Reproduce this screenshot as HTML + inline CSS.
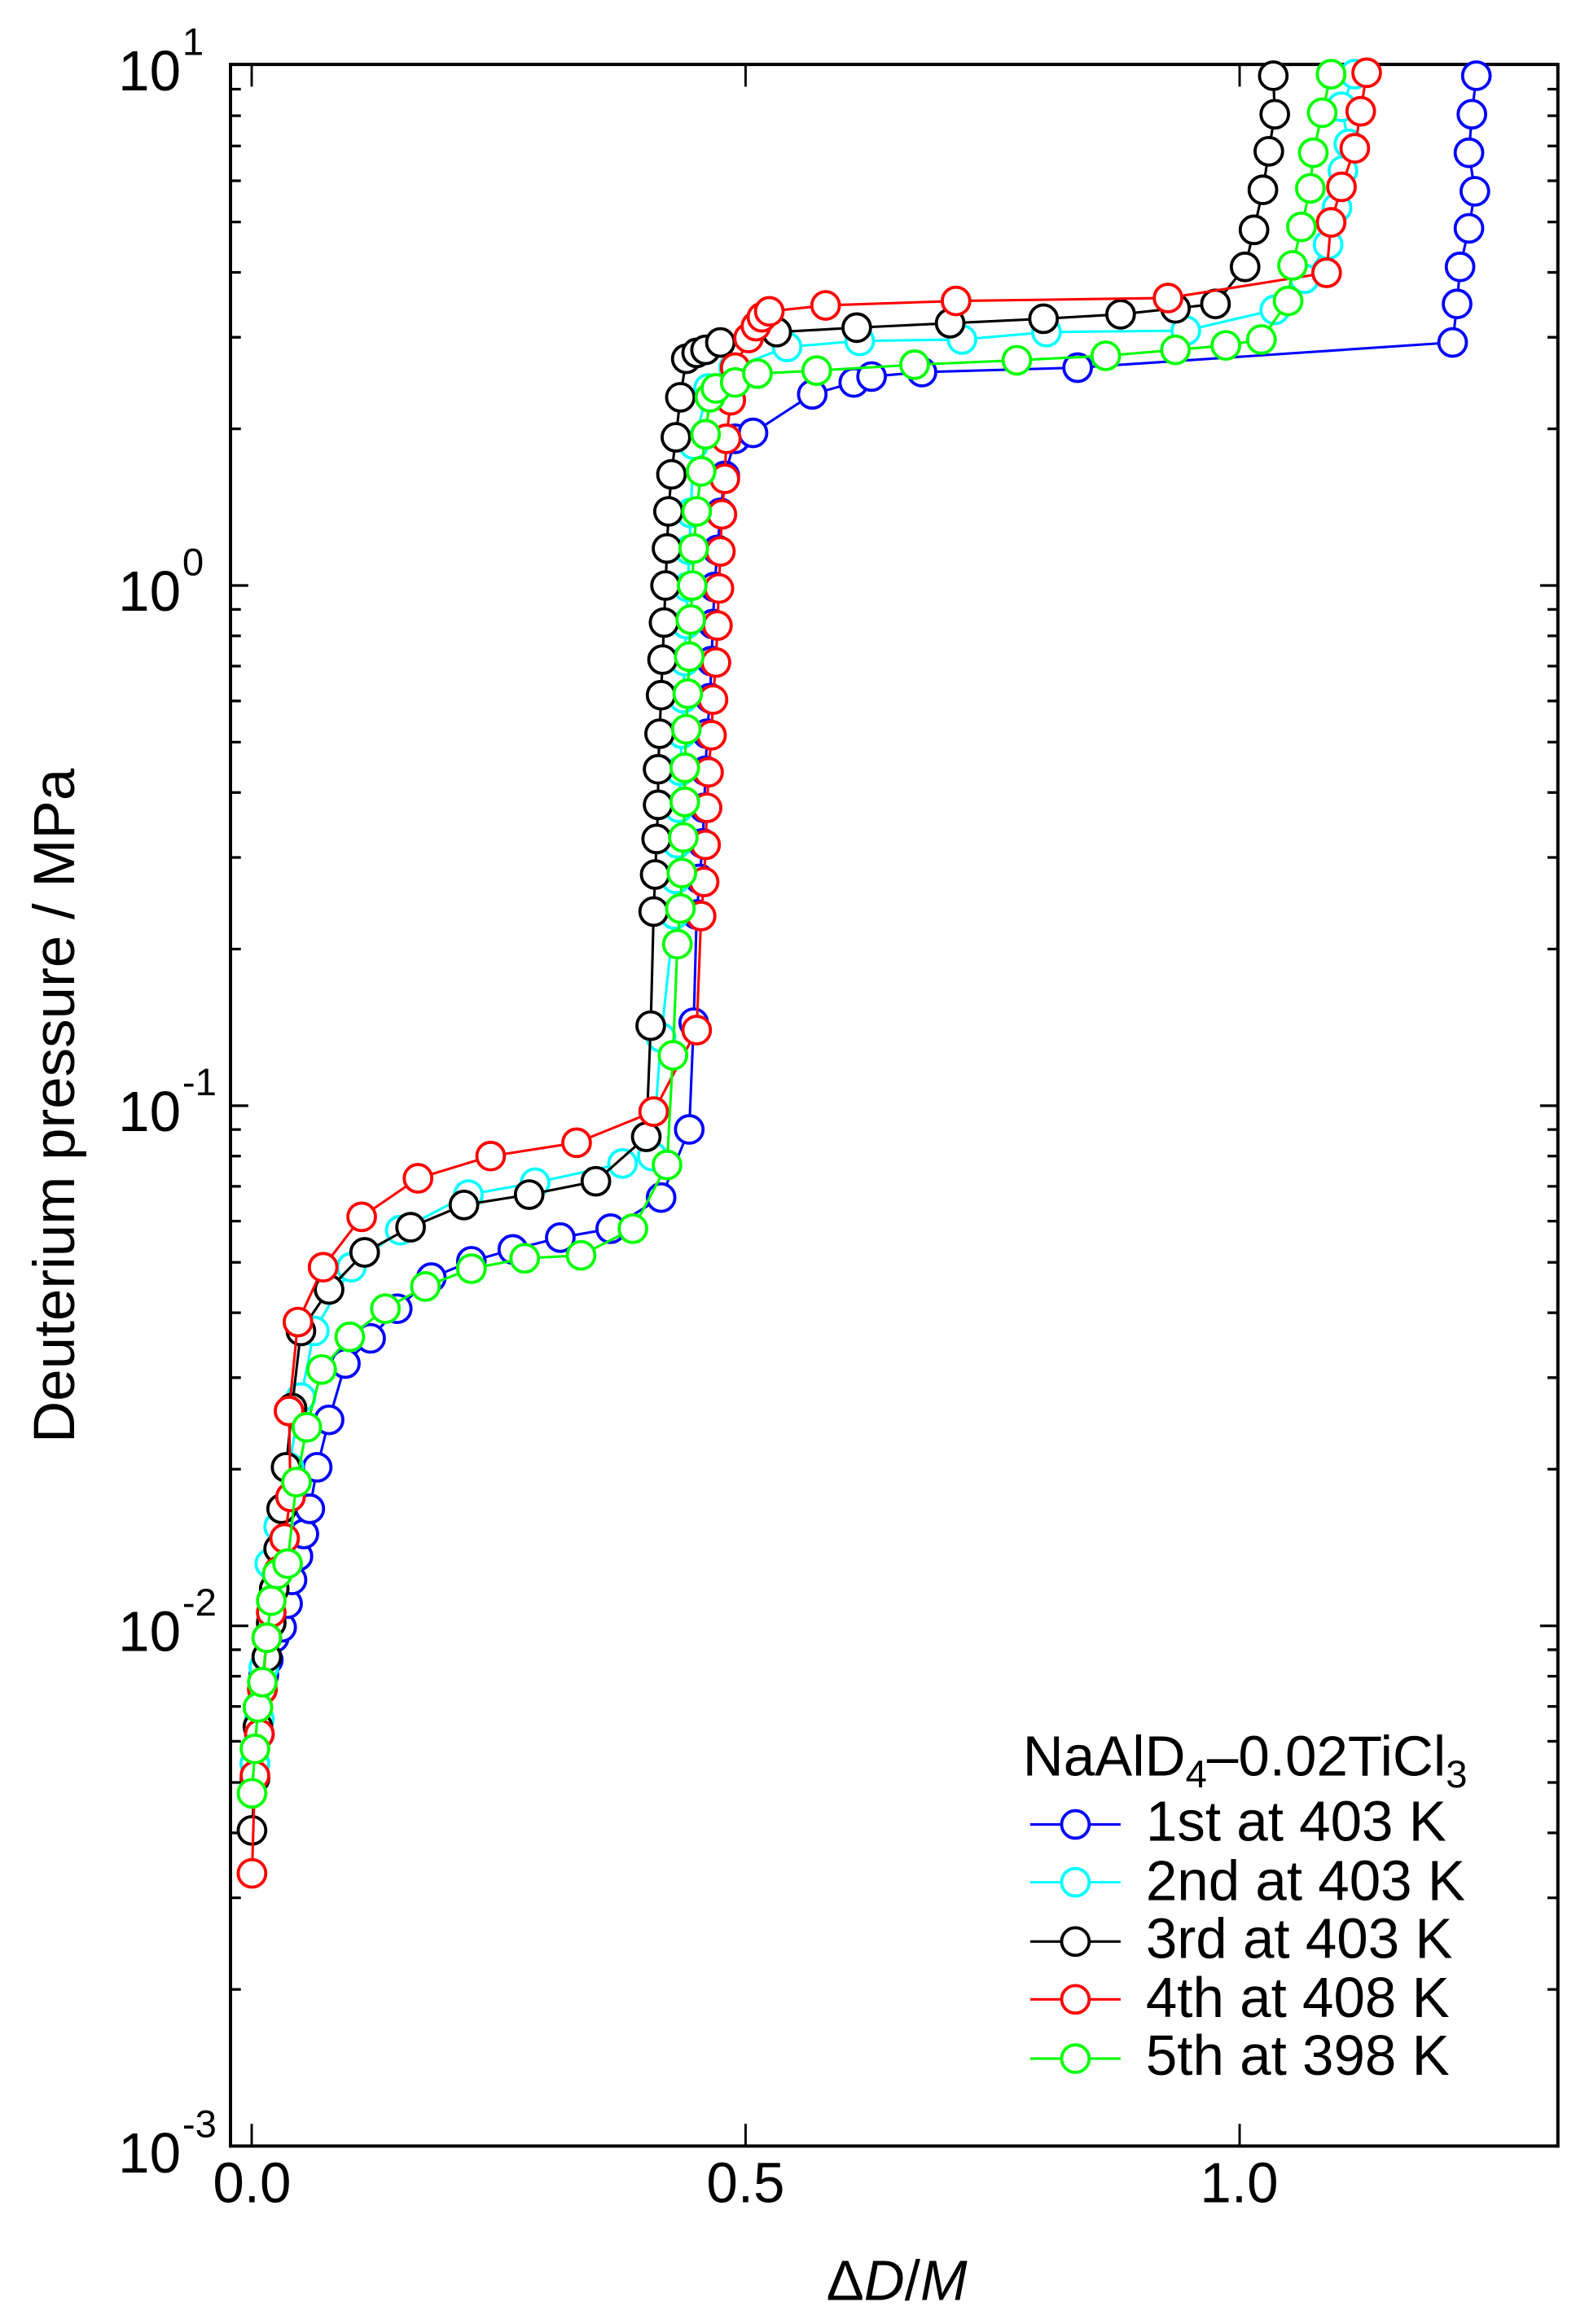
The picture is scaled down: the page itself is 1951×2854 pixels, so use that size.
<!DOCTYPE html>
<html><head><meta charset="utf-8"><style>
html,body{margin:0;padding:0;background:#fff}
svg{display:block}
text{font-family:"Liberation Sans",Arial,sans-serif;fill:#000}
</style></head><body>
<svg width="1951" height="2854" viewBox="0 0 1072 1568" xmlns="http://www.w3.org/2000/svg">
<rect width="1072" height="1568" fill="#fff"/>
<g stroke="#000" stroke-width="2.2" fill="none">
<rect x="155.5" y="43.4" width="895.5" height="1404.6"/>
</g>
<g stroke="#000" stroke-width="1.6" id="ticks">
<path d="M169.8 1448v-15M169.8 43.4v15M503 1448v-15M503 43.4v15M836.3 1448v-15M836.3 43.4v15"/>
</g>
<g id="yt" stroke="#000" stroke-width="1.8"></g>
<g font-size="38">
<text x="122" y="61" text-anchor="end">10</text><text x="123" y="37" font-size="26">1</text>
<text x="122" y="412" text-anchor="end">10</text><text x="123" y="388" font-size="26">0</text>
<text x="122" y="763" text-anchor="end">10</text><text x="123" y="739" font-size="26">-1</text>
<text x="122" y="1114" text-anchor="end">10</text><text x="123" y="1090" font-size="26">-2</text>
<text x="122" y="1466" text-anchor="end">10</text><text x="123" y="1442" font-size="26">-3</text>
<text x="170" y="1486" text-anchor="middle">0.0</text>
<text x="503" y="1486" text-anchor="middle">0.5</text>
<text x="836" y="1486" text-anchor="middle">1.0</text>
</g>
<text transform="translate(50,746) rotate(-90)" font-size="39" text-anchor="middle">Deuterium pressure / MPa</text>
<text x="605" y="1552" font-size="38" text-anchor="middle">Δ<tspan font-style="italic">D</tspan>/<tspan font-style="italic">M</tspan></text>
<g id="series"></g>
<g font-size="38">
<text x="690" y="1198">NaAlD<tspan font-size="26" dy="8">4</tspan><tspan dy="-8">–0.02TiCl</tspan><tspan font-size="26" dy="8">3</tspan></text>
<text x="773" y="1242">1st at 403 K</text>
<text x="773" y="1282">2nd at 403 K</text>
<text x="773" y="1321">3rd at 403 K</text>
<text x="773" y="1361">4th at 408 K</text>
<text x="773" y="1400">5th at 398 K</text>
</g>
<g id="leg"></g>
<script>
(function(){
var NS="http://www.w3.org/2000/svg";
function el(t,a,p){var e=document.createElementNS(NS,t);for(var k in a)e.setAttribute(k,a[k]);p.appendChild(e);return e;}
var yt=document.getElementById('yt');
var d="";
for(var n=0;n<4;n++){var base=1448-351*n;
 d+="M155.5 "+base+"h12M1051 "+base+"h-12";
 for(var m=2;m<10;m++){var y=base-351*Math.log10(m);d+="M155.5 "+y.toFixed(1)+"h7M1051 "+y.toFixed(1)+"h-7";}
}
el('path',{d:d},yt);
var S=[
["#0000ff",[[172,1190],[175,1170],[178,1130],[181,1120],[185,1105],[190,1098],[194,1082],[197,1066],[201,1050],[205,1035],[209,1018],[214,990],[222,958],[233,920],[250,903],[268,883],[291,862],[318,851],[346,843],[378,835],[412,829],[446,808],[465,762],[468,690],[470,617],[472,593],[474,569],[475,545],[476,520],[477,495],[479,471],[480,446],[481,421],[482,396],[484,371],[486,346],[489,321],[496,296],[508,292],[548,266],[576,258],[588,254],[622,251],[727,248],[980,231],[983,205],[985,180],[991,154],[995,129],[991,103],[993,77],[996,51]]],
["#00ffff",[[172,1190],[175,1160],[178,1125],[182,1055],[188,1030],[195,990],[203,943],[212,898],[237,855],[270,830],[316,806],[361,798],[420,785],[440,780],[446,700],[455,617],[456,593],[457,569],[458,545],[459,520],[460,495],[461,471],[462,446],[463,421],[464,396],[465,371],[466,346],[468,300],[478,262],[495,248],[531,234],[580,230],[649,229],[706,224],[800,223],[860,209],[880,188],[896,165],[902,140],[906,115],[910,97],[905,72],[914,50]]],
["#000000",[[170,1235],[172,1200],[174,1165],[177,1140],[180,1118],[183,1095],[185,1072],[188,1045],[190,1018],[193,990],[197,950],[203,898],[222,870],[246,845],[277,828],[313,813],[357,806],[402,797],[436,767],[439,692],[441,615],[442,590],[443,566],[444,543],[444,519],[445,495],[446,469],[447,445],[448,420],[449,395],[450,370],[451,345],[453,320],[456,295],[459,268],[463,242],[470,238],[476,236],[486,231],[524,224],[578,221],[641,218],[704,215],[756,212],[793,208],[820,205],[840,180],[846,155],[852,128],[856,102],[860,77],[859,51]]],
["#ff0000",[[170,1264],[172,1198],[175,1170],[177,1140],[180,1105],[183,1088],[188,1060],[192,1038],[196,1010],[195,952],[201,892],[218,855],[244,821],[282,795],[331,780],[389,771],[441,750],[470,695],[473,618],[475,595],[476,570],[477,545],[478,521],[480,496],[481,472],[483,447],[484,422],[485,397],[486,372],[487,347],[489,323],[490,296],[493,270],[496,248],[505,228],[510,220],[514,214],[519,210],[557,206],[645,203],[788,201],[895,184],[898,150],[905,126],[914,100],[918,75],[922,49]]],
["#00ff00",[[170,1210],[172,1180],[174,1152],[177,1135],[180,1105],[183,1080],[187,1062],[194,1055],[200,1000],[207,963],[217,924],[236,902],[260,883],[287,868],[318,856],[354,849],[392,847],[427,829],[450,786],[454,712],[457,637],[459,613],[460,589],[461,565],[462,541],[462,518],[463,492],[464,468],[465,443],[466,418],[467,395],[468,370],[470,345],[473,318],[476,293],[479,268],[483,262],[496,258],[511,252],[551,250],[617,246],[686,243],[746,240],[793,236],[827,233],[851,229],[869,203],[872,179],[878,153],[884,127],[886,103],[892,76],[898,50]]]
];
var g=document.getElementById('series');
S.forEach(function(s){
 var pts=s[1].map(function(p){return p.join(',');}).join(' ');
 el('polyline',{points:pts,fill:'none',stroke:s[0],'stroke-width':1.7},g);
 s[1].forEach(function(p){el('circle',{cx:p[0],cy:p[1],r:9.3,fill:'#fff',stroke:s[0],'stroke-width':2.1},g);});
});
var lg=document.getElementById('leg');
var ly=[1231,1270,1310,1349,1389];
S.forEach(function(s,i){
 el('line',{x1:695,x2:756,y1:ly[i],y2:ly[i],stroke:s[0],'stroke-width':1.7},lg);
 el('circle',{cx:725.5,cy:ly[i],r:9.3,fill:'#fff',stroke:s[0],'stroke-width':2.1},lg);
});
})();
</script>
</svg>
</body></html>
